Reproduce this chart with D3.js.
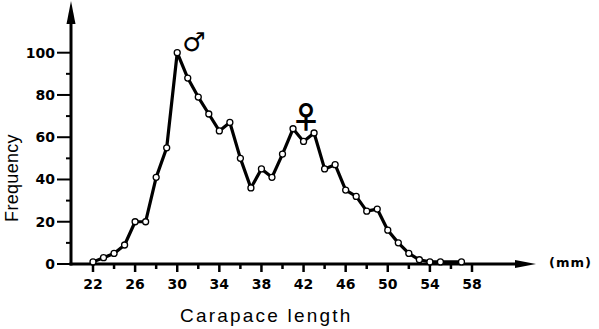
<!DOCTYPE html>
<html>
<head>
<meta charset="utf-8">
<script src="https://cdn.jsdelivr.net/npm/d3@7"></script>
<style>
  body { margin: 0; background: #fff; }
  svg { display: block; }
  .tick-lbl { font-family: "DejaVu Sans", sans-serif; font-weight: bold; font-size: 14px; }
  .ax-title { font-family: "Liberation Sans", Arial, sans-serif; font-size: 18px; }
  .sym { font-family: "DejaVu Sans", sans-serif; font-weight: bold; fill: #000; }
</style>
</head>
<body>
<svg id="chart" width="599" height="329"></svg>
<script>
// carapace length (mm) and frequency
var lengths = [22, 23, 24, 25, 26, 27, 28, 29, 30, 31, 32, 33, 34, 35, 36, 37, 38, 39,
               40, 41, 42, 43, 44, 45, 46, 47, 48, 49, 50, 51, 52, 53, 54, 55, 57];
var freqs   = [1, 3, 5, 9, 20, 20, 41, 55, 100, 88, 79, 71, 63, 67, 50, 36, 45, 41,
               52, 64, 58, 62, 45, 47, 35, 32, 25, 26, 16, 10, 5, 2, 1, 1, 1];
var xLabels = [22, 26, 30, 34, 38, 42, 46, 50, 54, 58];
var yLabels = [0, 20, 40, 60, 80, 100];

var data = lengths.map(function(d, i) { return {len: d, freq: freqs[i]}; });

var svg = d3.select('#chart');

var x = d3.scaleLinear().domain([22, 58]).range([93, 472]);
var y = d3.scaleLinear().domain([0, 100]).range([264, 52.7]);

var x0 = 71, y0 = 264;

// y axis line with arrow
svg.append('line')
  .attr('x1', x0).attr('x2', x0)
  .attr('y1', y0 + 1.5).attr('y2', 12)
  .attr('stroke', '#000').attr('stroke-width', 3);
svg.append('path')
  .attr('d', 'M' + (x0 - 4.5) + ',24 L' + x0 + ',1 L' + (x0 + 4.5) + ',24 Z')
  .attr('fill', '#000');

// x axis line with arrow
svg.append('line')
  .attr('x1', x0 - 1.5).attr('x2', 520)
  .attr('y1', y0).attr('y2', y0)
  .attr('stroke', '#000').attr('stroke-width', 3);
svg.append('path')
  .attr('d', 'M515,' + (y0 - 4) + ' L536,' + y0 + ' L515,' + (y0 + 4) + ' Z')
  .attr('fill', '#000');

// y ticks (minor every 10)
d3.range(10, 101, 10).forEach(function(v) {
  var major = v % 20 == 0;
  svg.append('line')
    .attr('x1', major ? 57 : 66).attr('x2', x0)
    .attr('y1', y(v)).attr('y2', y(v))
    .attr('stroke', '#000').attr('stroke-width', 2);
});
svg.append('line')
  .attr('x1', 57).attr('x2', x0).attr('y1', y0).attr('y2', y0)
  .attr('stroke', '#000').attr('stroke-width', 2);

svg.selectAll('.ylbl')
  .data(yLabels)
  .enter().append('text')
  .attr('class', 'tick-lbl')
  .attr('x', 55)
  .attr('y', function(d) { return y(d) + 5; })
  .attr('text-anchor', 'end')
  .text(function(d) { return d; });

// x ticks: long every 4 mm, short in between
d3.range(22, 59, 2).forEach(function(v) {
  var major = (v - 22) % 4 == 0;
  svg.append('line')
    .attr('x1', x(v)).attr('x2', x(v))
    .attr('y1', y0).attr('y2', y0 + (major ? 8 : 5))
    .attr('stroke', '#000').attr('stroke-width', 2.5);
});

svg.selectAll('.xlbl')
  .data(xLabels)
  .enter().append('text')
  .attr('class', 'tick-lbl')
  .attr('x', function(d) { return x(d); })
  .attr('y', 289)
  .attr('text-anchor', 'middle')
  .text(function(d) { return d; });

// axis titles
svg.append('text')
  .attr('class', 'ax-title')
  .attr('x', 180).attr('y', 322)
  .style('font-size', '19px')
  .style('letter-spacing', '2.2px')
  .text('Carapace length');

svg.append('text')
  .attr('class', 'ax-title')
  .attr('transform', 'translate(18,178) rotate(-90)')
  .attr('text-anchor', 'middle')
  .style('letter-spacing', '0.3px')
  .text('Frequency');

svg.append('text')
  .attr('class', 'tick-lbl')
  .attr('x', 549).attr('y', 267)
  .style('font-size', '13px')
  .style('letter-spacing', '1px')
  .text('(mm)');

// the curve
var line = d3.line()
  .x(function(d) { return x(d.len); })
  .y(function(d) { return y(d.freq); });

svg.append('path')
  .datum(data)
  .attr('d', line)
  .attr('fill', 'none')
  .attr('stroke', '#000')
  .attr('stroke-width', 3.2)
  .attr('stroke-linejoin', 'round');

svg.selectAll('.pt')
  .data(data)
  .enter().append('circle')
  .attr('cx', function(d) { return x(d.len); })
  .attr('cy', function(d) { return y(d.freq); })
  .attr('r', 3)
  .attr('fill', '#fff')
  .attr('stroke', '#000')
  .attr('stroke-width', 1.3);

// sex symbols over the two peaks
svg.append('text')
  .attr('class', 'sym')
  .attr('x', 194).attr('y', 51)
  .attr('text-anchor', 'middle')
  .style('font-size', '26px')
  .text('\u2642');

svg.append('text')
  .attr('class', 'sym')
  .attr('x', 306).attr('y', 128)
  .attr('text-anchor', 'middle')
  .style('font-family', '"Noto Sans CJK JP"')
  .style('font-size', '30px')
  .text('\u2640');
</script>
</body>
</html>
